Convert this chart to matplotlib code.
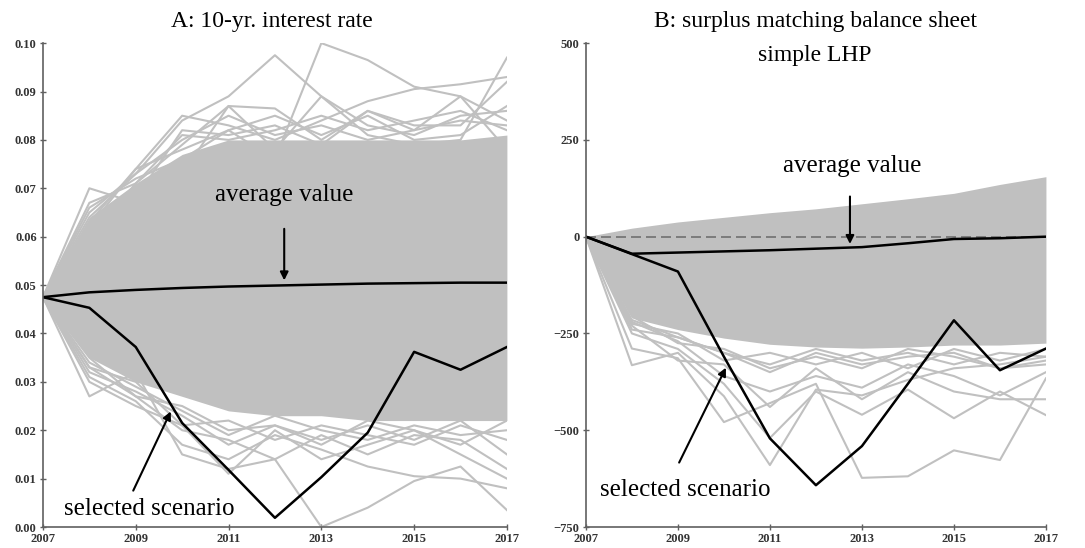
import numpy as np
import matplotlib
matplotlib.use("Agg")
import matplotlib.pyplot as plt

plt.rcParams['font.family'] = ['Liberation Serif', 'DejaVu Serif']

years = list(range(2007, 2018))

# panel A: 10-yr interest rate
rate_avg = [0.0475, 0.0485, 0.0490, 0.0494, 0.0497, 0.0499, 0.0501, 0.0503, 0.0504, 0.0505, 0.0505]
rate_sel = [0.0475, 0.0453, 0.0372, 0.0215, 0.0118, 0.0019, 0.0103, 0.0195, 0.0362, 0.0325, 0.0372]
rate_band_hi = [0.0475, 0.064, 0.071, 0.077, 0.080, 0.080, 0.080, 0.080, 0.080, 0.080, 0.081]
rate_band_lo = [0.0475, 0.035, 0.030, 0.027, 0.024, 0.023, 0.023, 0.022, 0.022, 0.022, 0.022]
rate_edges = [
    [0.0475, 0.064, 0.073, 0.084, 0.089, 0.0975, 0.089, 0.083, 0.081, 0.085, 0.086],
    [0.0475, 0.066, 0.072, 0.076, 0.082, 0.076, 0.100, 0.0965, 0.091, 0.089, 0.078],
    [0.0475, 0.070, 0.067, 0.073, 0.087, 0.0865, 0.080, 0.086, 0.083, 0.083, 0.092],
    [0.0475, 0.062, 0.074, 0.085, 0.083, 0.080, 0.084, 0.088, 0.0905, 0.0915, 0.093],
    [0.0475, 0.060, 0.071, 0.079, 0.087, 0.078, 0.089, 0.081, 0.079, 0.080, 0.097],
    [0.0475, 0.061, 0.068, 0.082, 0.081, 0.083, 0.079, 0.086, 0.082, 0.089, 0.084],
    [0.0475, 0.065, 0.073, 0.080, 0.085, 0.081, 0.083, 0.080, 0.082, 0.084, 0.083],
    [0.0475, 0.063, 0.074, 0.078, 0.082, 0.085, 0.081, 0.085, 0.080, 0.081, 0.087],
    [0.0475, 0.067, 0.071, 0.081, 0.080, 0.082, 0.085, 0.082, 0.084, 0.086, 0.082],
    [0.0475, 0.033, 0.027, 0.020, 0.018, 0.014, 0.000, 0.004, 0.0095, 0.0125, 0.0035],
    [0.0475, 0.031, 0.026, 0.017, 0.014, 0.019, 0.016, 0.0125, 0.0105, 0.010, 0.008],
    [0.0475, 0.027, 0.032, 0.015, 0.012, 0.014, 0.019, 0.015, 0.019, 0.018, 0.012],
    [0.0475, 0.030, 0.025, 0.021, 0.011, 0.020, 0.014, 0.017, 0.020, 0.015, 0.010],
    [0.0475, 0.032, 0.028, 0.023, 0.017, 0.021, 0.018, 0.021, 0.018, 0.022, 0.015],
    [0.0475, 0.034, 0.029, 0.024, 0.019, 0.023, 0.020, 0.018, 0.021, 0.019, 0.020],
    [0.0475, 0.033, 0.030, 0.021, 0.022, 0.018, 0.021, 0.019, 0.017, 0.021, 0.018],
    [0.0475, 0.035, 0.027, 0.025, 0.020, 0.021, 0.017, 0.022, 0.020, 0.017, 0.022],
]

# panel B: surplus
surp_avg = [0, -44, -41, -38, -35, -31, -27, -17, -6, -4, 0]
surp_sel = [0, -45, -90, -310, -521, -642, -541, -380, -216, -345, -289]
surp_band_hi = [0, 22, 38, 50, 62, 72, 85, 98, 112, 135, 155]
surp_band_lo = [0, -210, -240, -262, -278, -285, -288, -285, -280, -280, -275]
surp_edges = [
    [0, -332, -300, -412, -590, -395, -410, -370, -340, -330, -310],
    [0, -289, -314, -479, -430, -380, -623, -619, -552, -577, -366],
    [0, -250, -290, -380, -520, -400, -460, -395, -469, -400, -461],
    [0, -230, -320, -330, -440, -340, -420, -350, -400, -420, -420],
    [0, -220, -270, -360, -400, -360, -390, -330, -360, -410, -350],
    [0, -240, -260, -300, -350, -300, -330, -310, -300, -340, -320],
    [0, -215, -260, -300, -330, -290, -320, -300, -330, -300, -310],
    [0, -225, -250, -320, -300, -330, -300, -340, -290, -320, -290],
    [0, -205, -275, -290, -340, -310, -340, -290, -310, -340, -330],
]

grey = '#c0c0c0'
spine_col = '#606060'

fig = plt.figure(figsize=(10.85, 5.48), dpi=100)
axA = fig.add_axes([0.0396, 0.0383, 0.4276, 0.883])
axB = fig.add_axes([0.5400, 0.0383, 0.4240, 0.883])


def style(ax):
    for s in ['top', 'right']:
        ax.spines[s].set_visible(False)
    for s in ['left', 'bottom']:
        ax.spines[s].set_color(spine_col)
        ax.spines[s].set_linewidth(1.2)
    ax.tick_params(direction='inout', length=5, width=1, color=spine_col, pad=2)
    ax.set_xlim(2007, 2017)
    ax.set_xticks([2007, 2009, 2011, 2013, 2015, 2017])
    for lab in ax.get_xticklabels() + ax.get_yticklabels():
        lab.set_fontsize(9)
        lab.set_fontweight('bold')
        lab.set_color('#333333')


arrow = dict(arrowstyle='-|>', color='black', lw=1.5, mutation_scale=12)

# panel A
axA.fill_between(years, rate_band_lo, rate_band_hi, color=grey, lw=0)
for e in rate_edges:
    axA.plot(years, e, color=grey, lw=1.5)
axA.plot(years, rate_avg, color='black', lw=1.8)
axA.plot(years, rate_sel, color='black', lw=1.8)
axA.set_ylim(0, 0.10)
axA.set_yticks(np.arange(0, 0.101, 0.01))
axA.set_yticklabels(['%.2f' % v for v in np.arange(0, 0.101, 0.01)])
style(axA)
axA.text(2012.2, 0.0686, 'average value', fontsize=18, ha='center', va='center')
axA.annotate('', xy=(2012.2, 0.0504), xytext=(2012.2, 0.0622), arrowprops=arrow)
axA.text(2009.3, 0.0037, 'selected scenario', fontsize=18, ha='center', va='center')
axA.annotate('', xy=(2009.78, 0.0244), xytext=(2008.92, 0.0070), arrowprops=arrow)

# panel B
axB.fill_between(years, surp_band_lo, surp_band_hi, color=grey, lw=0)
for e in surp_edges:
    axB.plot(years, e, color=grey, lw=1.5)
axB.axhline(0, color='#707070', lw=1.2, ls=(0, (6, 3)))
axB.plot(years, surp_avg, color='black', lw=1.8)
axB.plot(years, surp_sel, color='black', lw=1.8)
axB.set_ylim(-750, 500)
axB.set_yticks([-750, -500, -250, 0, 250, 500])
style(axB)
axB.text(2012.78, 183, 'average value', fontsize=18, ha='center', va='center')
axB.annotate('', xy=(2012.74, -26), xytext=(2012.74, 111), arrowprops=arrow)
axB.text(2009.17, -655, 'selected scenario', fontsize=18, ha='center', va='center')
axB.annotate('', xy=(2010.07, -332), xytext=(2009.0, -590), arrowprops=arrow)

# titles
fig.text(272 / 1085, 1 - 22 / 548, 'A: 10-yr. interest rate', fontsize=17, ha='center', va='center')
fig.text(815 / 1085, 1 - 21 / 548, 'B: surplus matching balance sheet', fontsize=17, ha='center', va='center')
fig.text(815 / 1085, 1 - 55 / 548, 'simple LHP', fontsize=17, ha='center', va='center')

fig.savefig('out.png', dpi=100)
